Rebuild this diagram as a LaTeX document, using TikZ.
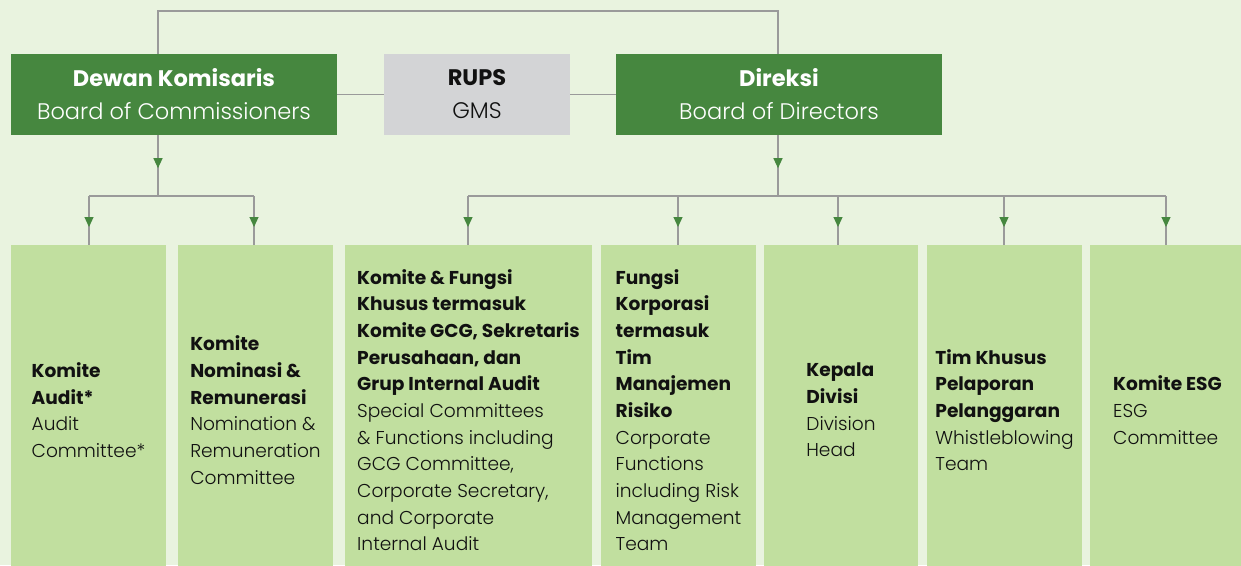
\documentclass[tikz,border=0pt]{standalone}
\usepackage{fontspec}
\setmainfont{Poppins}[UprightFont=* Light, BoldFont=* Bold]
\usetikzlibrary{arrows.meta,decorations.markings}
\definecolor{bg}{HTML}{E9F3DF}
\definecolor{dgreen}{HTML}{46873F}
\definecolor{lgreen}{HTML}{C1DF9F}
\definecolor{rupsgray}{HTML}{D3D4D6}
\definecolor{lineg}{HTML}{9A9A9A}
\definecolor{txt}{HTML}{111111}
\begin{document}
\begin{tikzpicture}[x=1pt,y=-1pt,
  topbox/.style={fill=dgreen, text=white, minimum width=326pt, minimum height=81pt,
    inner sep=0pt, align=center, font=\fontsize{22.5}{33}\selectfont},
  rupsbox/.style={fill=rupsgray, text=txt, minimum width=186pt, minimum height=81pt,
    inner sep=0pt, align=center, font=\fontsize{22.5}{33}\selectfont},
  unitbox/.style={fill=lgreen, text=txt, minimum height=330pt, inner sep=0pt,
    align=left, font=\fontsize{18.6}{26.67}\selectfont},
  conn/.style={draw=lineg, line width=1.2pt},
  midarrow/.style={postaction={decorate}, decoration={markings,
    mark=at position #1 with {\arrow[dgreen]{Triangle[width=9pt,length=10pt]}}}}
]
\useasboundingbox (0,0) rectangle (1241,565);
\fill[bg] (0,0) rectangle (1241,565);

% top row
\node[topbox] (dk) at (174,94.5) {\textbf{Dewan Komisaris}\\Board of Commissioners};
\node[rupsbox] (rups) at (477,94.5) {\textbf{RUPS}\\GMS};
\node[topbox] (dir) at (779,94.5) {\textbf{Direksi}\\Board of Directors};

% bottom row
\node[unitbox, minimum width=155pt] (b1) at (88.5,410) {\textbf{Komite}\\\textbf{Audit*}\\Audit\\Committee*};
\node[unitbox, minimum width=155pt] (b2) at (255.5,410) {\textbf{Komite}\\\textbf{Nominasi \&}\\\textbf{Remunerasi}\\Nomination \&\\Remuneration\\Committee};
\node[unitbox, minimum width=247pt] (b3) at (468.5,410) {\textbf{Komite \& Fungsi}\\\textbf{Khusus termasuk}\\\textbf{Komite GCG, Sekretaris}\\\textbf{Perusahaan, dan}\\\textbf{Grup Internal Audit}\\Special Committees\\\& Functions including\\GCG Committee,\\Corporate Secretary,\\and Corporate\\Internal Audit};
\node[unitbox, minimum width=155pt] (b4) at (678.5,410) {\textbf{Fungsi}\\\textbf{Korporasi}\\\textbf{termasuk}\\\textbf{Tim}\\\textbf{Manajemen}\\\textbf{Risiko}\\Corporate\\Functions\\including Risk\\Management\\Team};
\node[unitbox, minimum width=154pt] (b5) at (841,410) {\textbf{Kepala}\\\textbf{Divisi}\\Division\\Head};
\node[unitbox, minimum width=155pt] (b6) at (1004.5,410) {\textbf{Tim Khusus}\\\textbf{Pelaporan}\\\textbf{Pelanggaran}\\Whistleblowing\\Team};
\node[unitbox, minimum width=155pt] (b7) at (1167.5,410) {\textbf{Komite ESG}\\ESG\\Committee};

% coordinates
\coordinate (tL) at (158,11);
\coordinate (tR) at (778,11);
\coordinate (jL) at (158,196);
\coordinate (jR) at (778,196);

% connectors top
\draw[conn] (tL |- dk.north) -- (tL) -- (tR) -- (tR |- dir.north);
\draw[conn] (dk.east) -- (rups.west);
\draw[conn] (rups.east) -- (dir.west);

% trunks
\draw[conn, midarrow=33pt] (jL |- dk.south) -- (jL);
\draw[conn, midarrow=33pt] (jR |- dir.south) -- (jR);

% left branch
\draw[conn] (89,196) -- (254,196);
\draw[conn, midarrow=31pt] (89,196) -- (b1.north -| 89,0);
\draw[conn, midarrow=31pt] (254,196) -- (b2.north -| 254,0);

% right branch
\draw[conn] (468,196) -- (1166,196);
\draw[conn, midarrow=31pt] (468,196) -- (b3.north -| 468,0);
\draw[conn, midarrow=31pt] (678,196) -- (b4.north -| 678,0);
\draw[conn, midarrow=31pt] (838,196) -- (b5.north -| 838,0);
\draw[conn, midarrow=31pt] (1004,196) -- (b6.north -| 1004,0);
\draw[conn, midarrow=31pt] (1166,196) -- (b7.north -| 1166,0);
\end{tikzpicture}
\end{document}
